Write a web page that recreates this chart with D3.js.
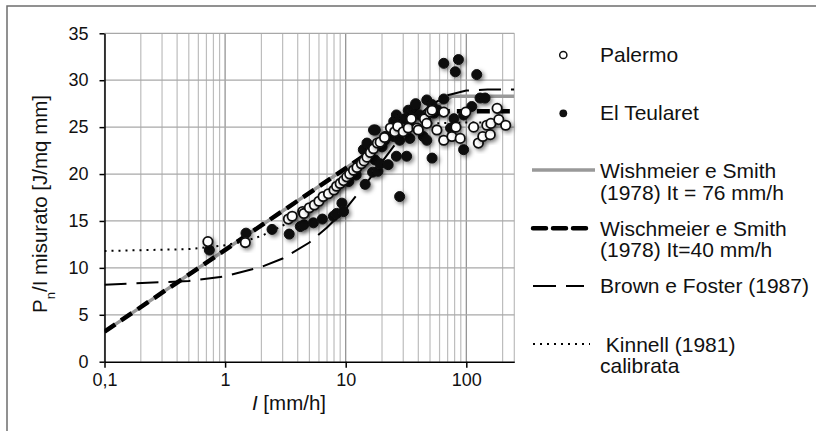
<!DOCTYPE html>
<html><head><meta charset="utf-8">
<script src="https://cdn.jsdelivr.net/npm/d3@7"></script>
<style>
html,body{margin:0;padding:0;background:#fff;}
svg{display:block;font-family:"Liberation Sans",Arial,sans-serif;}
</style></head>
<body>
<svg id="chart" width="816" height="431"></svg>
<script>
// ---- data ----
const palermoI = [0.72,1.47,3.35,3.6,4.4,4.5,5.0,5.5,6.0,6.5,7.2,8.0,8.4,9.0,9.6,10.2,10.8,11.6,12.4,13.5,14.2,15.0,16.0,17.0,18.3,19.3,21.0,23.5,25.5,27.0,30,33,35,39,40,45,47,50,52,57,65,65,76,82,89,99,115,126,137,148,158,160,180,186,212];
const palermoV = [12.8,12.7,15.2,15.5,16.0,15.8,16.4,16.7,17.1,17.6,17.9,18.3,18.7,19.0,19.3,19.7,20.0,20.4,20.7,21.1,21.4,21.8,22.3,22.7,23.3,23.4,23.9,24.9,24.5,25.1,24.5,24.9,25.9,24.9,24.7,25.9,25.4,26.6,26.8,24.7,26.6,23.6,24.0,25.0,23.8,26.6,25.0,23.3,24.0,25.2,24.2,25.4,27.0,25.8,25.2];
const teularetI = [0.74,1.49,2.45,3.4,4.2,4.5,5.4,6.4,7.9,8.4,9.3,9.6,10.6,12.2,14.0,14.5,15.0,16.7,17.0,17.5,17.6,18.5,19.3,20.0,21.0,21.2,22.5,25.0,25.0,26.3,26.3,28,28,28,31,32,33,34,36,37.5,38,41,44,46,47,47,52,52,54,58,65,65,74,79,81,86,95,95,111,122,130,143];
const teularetV = [11.9,13.7,14.1,13.6,14.4,14.6,14.8,15.2,15.5,15.8,16.9,16.0,19.2,19.9,22.6,18.9,23.3,20.2,24.7,21.5,24.7,20.3,21.1,22.9,23.6,24.0,21.0,24.0,25.6,26.3,21.9,25.8,23.6,17.6,25.9,21.9,26.8,23.8,26.8,27.2,27.5,26.3,24.0,25.8,27.9,23.6,27.4,21.7,26.5,26.8,31.8,28.0,24.9,25.9,30.9,32.2,26.3,22.6,27.2,30.6,28.1,28.1];
const ws76I = [0.1,76,250];
const ws76V = [3.2,28.3,28.3];
const ws40I = [0.1,50,250];
const ws40V = [3.2,26.7,26.7];
const bfI = [0.1,0.5,1,2,3,5,7,10,15,20,30,40,50,70,100,150,250];
const bfV = [8.2,8.6,9.1,10.1,11.0,12.7,14.3,16.3,19.1,21.3,24.3,26.2,27.3,28.4,28.9,29.0,29.0];
const kinI = [0.1,0.5,1,1.5,2,3,5,7,10,15,20,30,50,100,250];
const kinV = [11.8,12.0,12.4,12.9,13.4,14.5,16.3,17.8,19.6,21.8,23.2,24.6,25.4,25.5,25.5];
const xTickVals = [0.1,1,10,100];
const xTickLabels = ["0,1","1","10","100"];
const yTickVals = [0,5,10,15,20,25,30,35];
const yTickLabels = ["0","5","10","15","20","25","30","35"];
const legendLabels = [["Palermo"],["El Teularet"],["Wishmeier e Smith","(1978) It = 76 mm/h"],["Wischmeier e Smith","(1978) It=40 mm/h"],["Brown e Foster (1987)"],["\u00a0Kinnell (1981)","calibrata"]];

// ---- drawing ----
const svg = d3.select("#chart");
const x = d3.scaleLog().domain([0.1,250]).range([104.5,514.3]);
const y = d3.scaleLinear().domain([0,35]).range([361.7,33.3]);

const defs = svg.append("defs");
const f = defs.append("filter").attr("id","shadow").attr("x","-60%").attr("y","-60%").attr("width","220%").attr("height","220%");
f.append("feDropShadow").attr("dx",2).attr("dy",2).attr("stdDeviation",2).attr("flood-color","#000").attr("flood-opacity",0.5);
defs.append("clipPath").attr("id","clip").append("rect")
  .attr("x",x.range()[0]).attr("y",y.range()[1]).attr("width",x.range()[1]-x.range()[0]).attr("height",y.range()[0]-y.range()[1]);

// outer frame
svg.append("rect").attr("x",7).attr("y",6).attr("width",840).attr("height",440)
  .attr("fill","none").attr("stroke","#6e6e6e").attr("stroke-width",1.5);

// grid
const minorX = [];
[0.1,1,10,100].forEach(d=>{for(let k=1;k<10;k++){const v=d*k; if(v<=250) minorX.push(v);}});
const grid = svg.append("g");
grid.selectAll("line.vx").data(minorX.concat([250])).join("line")
  .attr("x1",d=>x(d)).attr("x2",d=>x(d)).attr("y1",y(0)).attr("y2",y(35))
  .attr("stroke",d=>([1,10,100].includes(d)?"#8c8c8c":"#bdbdbd")).attr("stroke-width",1.2);
grid.selectAll("line.hy").data(yTickVals.slice(1)).join("line")
  .attr("x1",x(0.1)).attr("x2",x(250)).attr("y1",d=>y(d)).attr("y2",d=>y(d))
  .attr("stroke","#a8a8a8").attr("stroke-width",1.2);

// lines
const line = d3.line().x(d=>x(d[0])).y(d=>y(d[1]));
const lg = svg.append("g").attr("clip-path","url(#clip)");
const zip = (a,b)=>a.map((v,i)=>[v,b[i]]);
lg.append("path").attr("d",line(zip(ws76I,ws76V))).attr("fill","none").attr("stroke","#999").attr("stroke-width",3.5);
lg.append("path").attr("d",line(zip(bfI,bfV))).attr("fill","none").attr("stroke","#000").attr("stroke-width",2).attr("stroke-dasharray","22,10");
lg.append("path").attr("d",line(zip(kinI,kinV))).attr("fill","none").attr("stroke","#000").attr("stroke-width",2).attr("stroke-dasharray","2,5");
lg.append("path").attr("d",line(zip(ws40I,ws40V))).attr("fill","none").attr("stroke","#000").attr("stroke-width",4.5).attr("stroke-dasharray","13,7");

// points
const pg = svg.append("g");
pg.selectAll("circle.t").data(zip(teularetI,teularetV)).join("circle")
  .attr("cx",d=>x(d[0])).attr("cy",d=>y(d[1])).attr("r",5)
  .attr("fill","#111").attr("stroke","#111").attr("stroke-width",1).attr("filter","url(#shadow)");
pg.selectAll("circle.p").data(zip(palermoI,palermoV)).join("circle")
  .attr("cx",d=>x(d[0])).attr("cy",d=>y(d[1])).attr("r",4.7)
  .attr("fill","#fff").attr("stroke","#111").attr("stroke-width",1.8).attr("filter","url(#shadow)");

// axes
const xAxis = d3.axisBottom(x).tickValues(xTickVals).tickFormat((d,i)=>xTickLabels[i]).tickSizeOuter(0).tickSizeInner(6).tickPadding(6);
const gx = svg.append("g").attr("transform",`translate(0,${y(0)})`).call(xAxis);
const yAxis = d3.axisLeft(y).tickValues(yTickVals).tickFormat((d,i)=>yTickLabels[i]).tickSizeOuter(0).tickSizeInner(5).tickPadding(11);
const gy = svg.append("g").attr("transform",`translate(${x(0.1)},0)`).call(yAxis);
[gx,gy].forEach(g=>{
  g.select(".domain").attr("stroke","#000").attr("stroke-width",1.5);
  g.selectAll(".tick line").attr("stroke","#000").attr("stroke-width",1.5);
  g.selectAll(".tick text").attr("fill","#111").style("font-size","18px").style("font-family","'Liberation Sans',Arial,sans-serif");
});

// axis titles
const xt = svg.append("text").attr("x",289).attr("y",410).attr("text-anchor","middle").style("font-size","20.5px").attr("fill","#111");
xt.append("tspan").style("font-style","italic").text("I");
xt.append("tspan").text(" [mm/h]");
const yt = svg.append("text").attr("transform","translate(47,204) rotate(-90)").attr("text-anchor","middle").style("font-size","20.5px").attr("fill","#111");
yt.append("tspan").text("P");
yt.append("tspan").attr("baseline-shift","sub").style("font-size","13px").text("n");
yt.append("tspan").text("/I misurato [J/mq mm]");

// legend
const leg = svg.append("g").style("font-size","21px").attr("fill","#111");
const tx = 600;
function txt(lines, base){ lines.forEach((s,i)=>leg.append("text").attr("x",tx).attr("y",base+i*21.7).text(s)); }
leg.append("circle").attr("cx",563.3).attr("cy",55).attr("r",3.6).attr("fill","#fff").attr("stroke","#111").attr("stroke-width",1.5);
txt(legendLabels[0],62);
leg.append("circle").attr("cx",563.3).attr("cy",113.3).attr("r",3.9).attr("fill","#111");
txt(legendLabels[1],120);
leg.append("line").attr("x1",532).attr("x2",595).attr("y1",170).attr("y2",170).attr("stroke","#999").attr("stroke-width",3.5);
txt(legendLabels[2],178);
leg.append("line").attr("x1",533).attr("x2",593).attr("y1",228.3).attr("y2",228.3).attr("stroke","#000").attr("stroke-width",4.5).attr("stroke-dasharray","13,7").attr("stroke-linecap","round");
txt(legendLabels[3],235.5);
leg.append("line").attr("x1",533).attr("x2",584).attr("y1",286).attr("y2",286).attr("stroke","#000").attr("stroke-width",2).attr("stroke-dasharray","23,10");
txt(legendLabels[4],293);
leg.append("line").attr("x1",533).attr("x2",590).attr("y1",344).attr("y2",344).attr("stroke","#000").attr("stroke-width",2).attr("stroke-dasharray","2,5");
txt(legendLabels[5],351.5);
</script>
</body></html>
